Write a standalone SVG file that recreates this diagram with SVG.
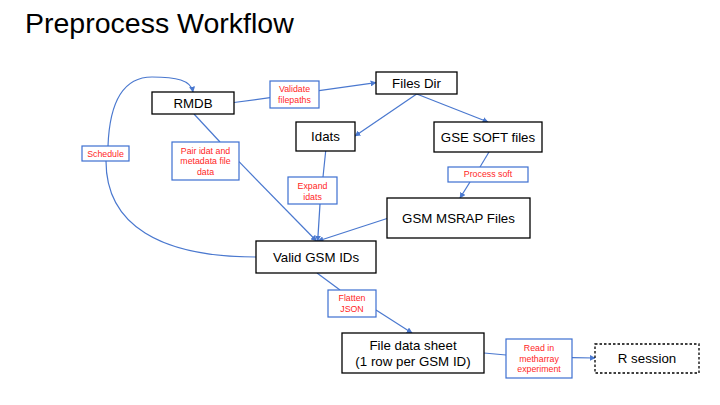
<svg xmlns="http://www.w3.org/2000/svg" width="720" height="405" viewBox="0 0 720 405">
<defs>
<style>
.node{fill:#fff;stroke:#000;stroke-width:1.3}
.dash{stroke-dasharray:2.5 2}
.lbl{fill:#fff;stroke:#3c6fd1;stroke-width:1.2}
.nt{font-family:"Liberation Sans",Arial,sans-serif;font-size:13.3px;fill:#000;text-anchor:middle}
.lt{font-family:"Liberation Sans",Arial,sans-serif;font-size:8.8px;fill:#ff1f1f;text-anchor:middle}
.c{fill:none;stroke:#4a78cf;stroke-width:1.2}
.a{marker-end:url(#arr)}
</style>
<marker id="arr" viewBox="0 0 10 10" refX="9" refY="5" markerWidth="5" markerHeight="5" orient="auto">
<path d="M0,0 L10,5 L0,10 z" fill="#4a78cf"/>
</marker>
</defs>
<rect width="720" height="405" fill="#fff"/>
<text x="25" y="33" font-family="Liberation Sans,Arial,sans-serif" font-size="28.5" fill="#000">Preprocess Workflow</text>

<g id="connectors">
<path class="c" d="M234,102.5 L270,97.7"/>
<path class="c a" d="M319,90.7 L376,82.7"/>
<path class="c a" d="M416.7,94 L355,136"/>
<path class="c a" d="M416.7,94 L488,122"/>
<path class="c" d="M489,152 L480,167"/>
<path class="c a" d="M470,182 L460,198"/>
<path class="c" d="M325.7,151 L323,177"/>
<path class="c a" d="M320,204 L317.7,241"/>
<path class="c a" d="M387,218.5 L318,241"/>
<path class="c" d="M194,114 L220,142"/>
<path class="c a" d="M239,161.7 L316.5,241"/>
<path class="c" d="M256.5,257 C160,257 106,225 106,161"/>
<path class="c a" d="M108,146 C110,92 130,77 152,77 C176,77 191,80 193,92"/>
<path class="c" d="M317,273 L340,290"/>
<path class="c a" d="M376,310 L412,333"/>
<path class="c" d="M484,353 L506,355"/>
<path class="c a" d="M572,357.7 L595,358"/>
</g>

<g id="rmdb"><rect class="node" x="152" y="92" width="82" height="22"/><text class="nt" x="193" y="107.7">RMDB</text></g>
<g id="files-dir"><rect class="node" x="376" y="72" width="81" height="22"/><text class="nt" x="416.5" y="87.7">Files Dir</text></g>
<g id="idats"><rect class="node" x="296" y="122" width="59" height="29"/><text class="nt" x="325.5" y="141.2">Idats</text></g>
<g id="gse-soft"><rect class="node" x="434" y="122" width="108" height="30"/><text class="nt" x="488" y="141.7">GSE SOFT files</text></g>
<g id="gsm-msrap"><rect class="node" x="387" y="198" width="143" height="40"/><text class="nt" x="458.5" y="222.7">GSM MSRAP Files</text></g>
<g id="valid-gsm"><rect class="node" x="256" y="241" width="120" height="32"/><text class="nt" x="316" y="261.7">Valid GSM IDs</text></g>
<g id="file-data-sheet"><rect class="node" x="342" y="333" width="142" height="40"/><text class="nt" x="413" y="350">File data sheet</text><text class="nt" x="413" y="365.7">(1 row per GSM ID)</text></g>
<g id="r-session"><rect class="node dash" x="595" y="344" width="104" height="29"/><text class="nt" x="647" y="363.2">R session</text></g>

<g id="lbl-validate"><rect class="lbl" x="270" y="81" width="49" height="27"/><text class="lt" x="294.5" y="92.1">Validate</text><text class="lt" x="294.5" y="103.1">filepaths</text></g>
<g id="lbl-schedule"><rect class="lbl" x="82" y="146" width="47" height="15"/><text class="lt" x="105.5" y="156.6">Schedule</text></g>
<g id="lbl-pair"><rect class="lbl" x="172" y="142" width="67" height="38"/><text class="lt" x="205.5" y="153.8">Pair idat and</text><text class="lt" x="205.5" y="164.4">metadata file</text><text class="lt" x="205.5" y="174.8">data</text></g>
<g id="lbl-expand"><rect class="lbl" x="288" y="177" width="49" height="27"/><text class="lt" x="312.5" y="189.1">Expand</text><text class="lt" x="312.5" y="199.8">idats</text></g>
<g id="lbl-process"><rect class="lbl" x="448" y="167" width="80" height="15"/><text class="lt" x="488" y="177.3">Process soft</text></g>
<g id="lbl-flatten"><rect class="lbl" x="328" y="290" width="48" height="27"/><text class="lt" x="352" y="301.1">Flatten</text><text class="lt" x="352" y="311.8">JSON</text></g>
<g id="lbl-read"><rect class="lbl" x="506" y="339" width="66" height="39"/><text class="lt" x="539" y="351.1">Read in</text><text class="lt" x="539" y="362.1">metharray</text><text class="lt" x="539" y="372.3">experiment</text></g>
</svg>
